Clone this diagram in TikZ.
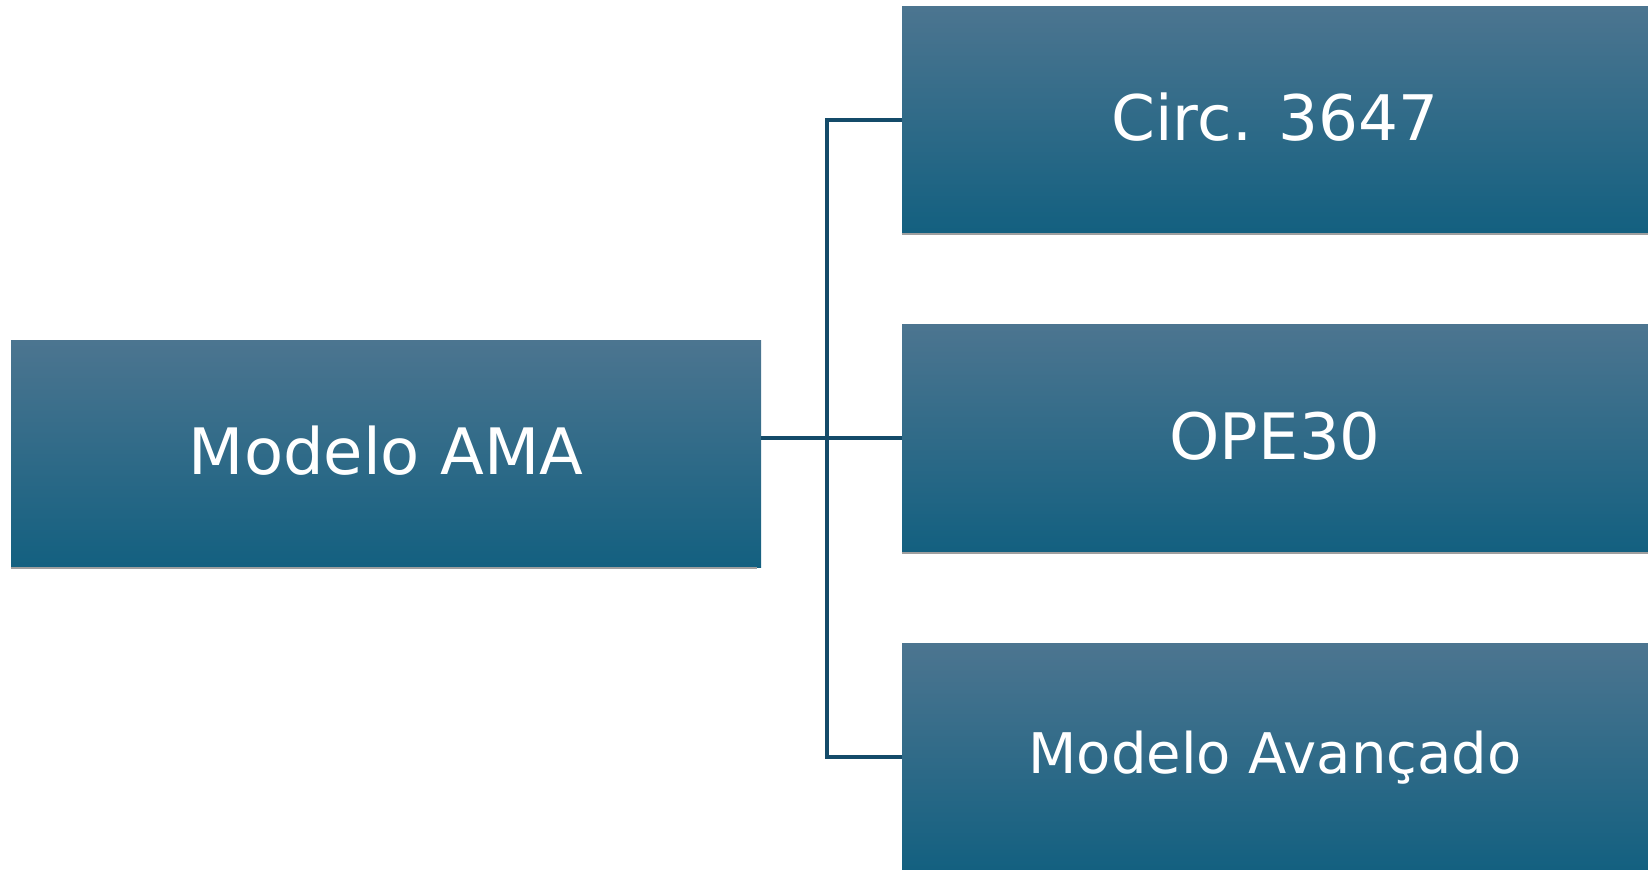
\documentclass[tikz,border=0pt]{standalone}
\usepackage{fontspec}
\setmainfont{DejaVu Sans}
\usetikzlibrary{
    positioning,
    calc
}
\definecolor{boxtop}{RGB}{76,117,144}
\definecolor{boxbot}{RGB}{19,96,128}
\definecolor{linkcol}{RGB}{20,75,105}
\tikzset{
    block/.style={rectangle, inner sep=0pt, top color=boxtop, bottom color=boxbot,
        text=white, font=\fontsize{32}{38}\selectfont, text height=24.3pt, text depth=3pt},
    bigblock/.style={block, minimum width=375pt, minimum height=113.5pt},
    sideblock/.style={block, minimum width=373pt, minimum height=113.5pt},
    link/.style={draw=linkcol, line width=2pt},
    shadowline/.style={draw=gray!75, line width=1pt}
}

\begin{document}
\begin{tikzpicture}[x=0.5pt, y=-0.5pt, line cap=butt]

    % fixed frame
    \useasboundingbox (0,0) rectangle (1648,869);

    % left block
    \node[bigblock] (ama) at (386,453.5) {Modelo AMA};

    % right column
    \node[sideblock, font=\fontsize{31.4}{38}\selectfont] (circ) at (1275,119.5) {Circ. 3647};
    \node[sideblock, below=45.5pt of circ] (ope) {OPE30};
    \node[sideblock, below=45.5pt of ope, font=\fontsize{28}{34}\selectfont,
        text height=21.3pt, text depth=4.5pt] (avanc) {Modelo Avançado};

    % thin shadows under the blocks
    \draw[shadowline] ([yshift=-0.5pt]ama.south west) -- ([yshift=-0.5pt,xshift=-2pt]ama.south east);
    \draw[shadowline] ([yshift=-0.5pt]circ.south west) -- ([yshift=-0.5pt]circ.south east);
    \draw[shadowline] ([yshift=-0.5pt]ope.south west) -- ([yshift=-0.5pt]ope.south east);

    % bracket connector
    \coordinate (fork) at (827,0);
    \draw[link] (ama.east |- ope.west) -- (ope.west);
    \draw[link] (circ.west) -- (circ.west -| fork) -- (avanc.west -| fork) -- (avanc.west);

\end{tikzpicture}
\end{document}
